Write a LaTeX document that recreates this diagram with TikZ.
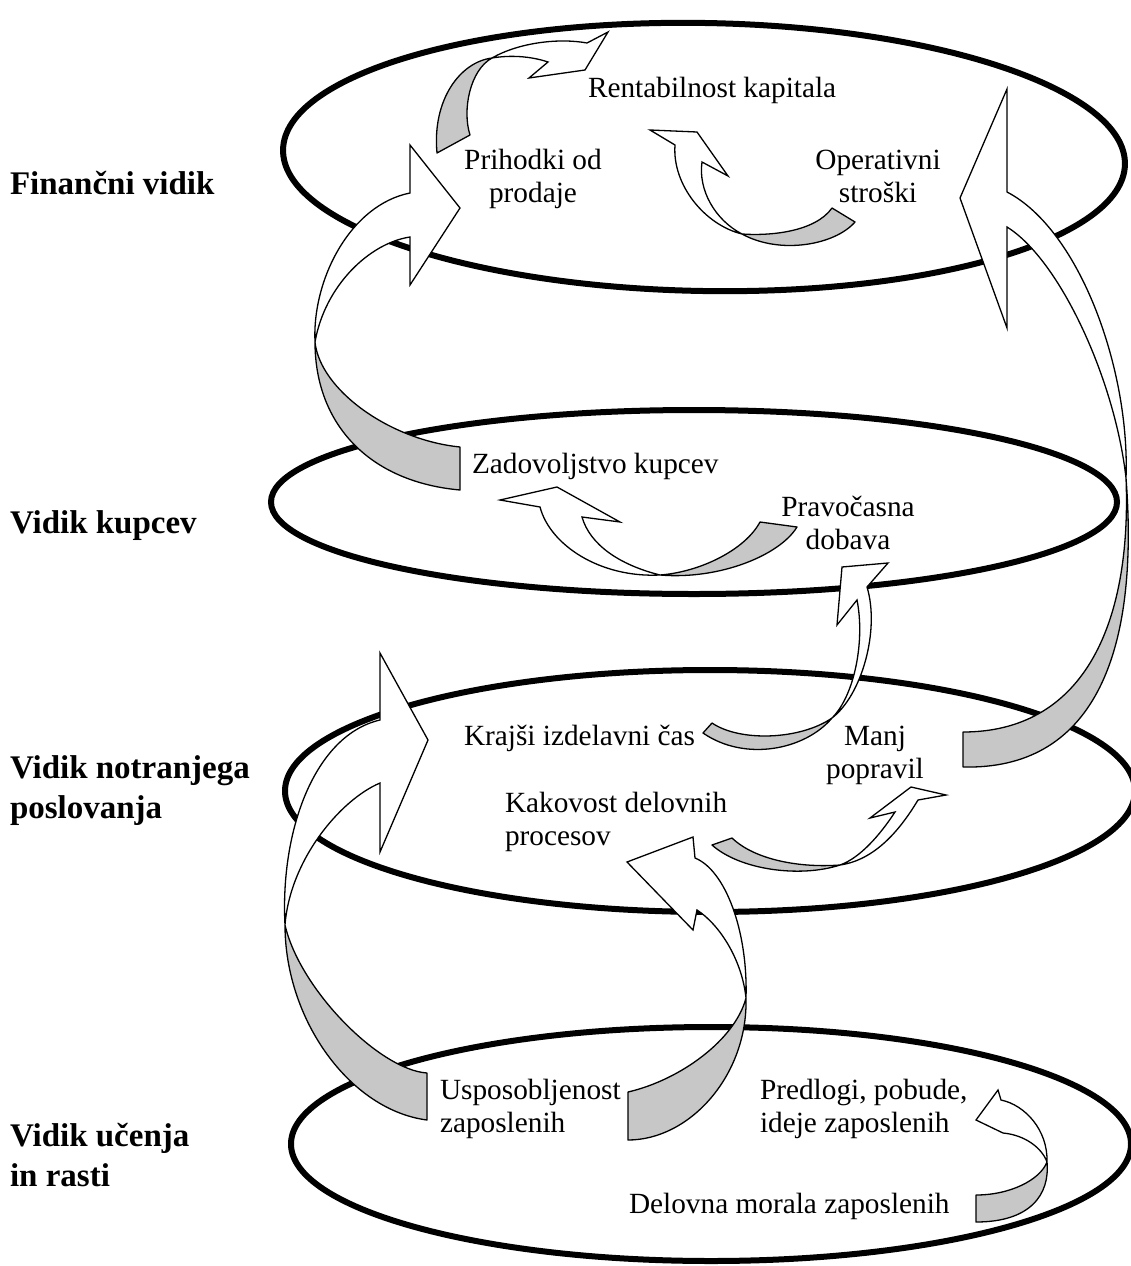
\documentclass[tikz,border=0pt]{standalone}
\usepackage{fontspec}
\setmainfont{Liberation Serif}

\begin{document}
\begin{tikzpicture}[x=1pt, y=-1pt]
\tikzstyle{every node}=[inner sep=0pt, outer sep=0pt]
\tikzstyle{sidelabel}=[font=\fontsize{33}{40}\selectfont\bfseries, anchor=base west, align=left]
\tikzstyle{aimlabel}=[font=\fontsize{29.3}{33}\selectfont, anchor=base, align=center]
\tikzstyle{plate}=[line width=6pt]
\tikzstyle{tailpart}=[draw, line width=1.3pt, fill=black!22, line join=round]
\tikzstyle{headpart}=[draw, line width=1.3pt, fill=white, line join=miter]

\useasboundingbox (0,0) rectangle (1130,1266);

\draw[plate, rotate around={-1:(704,157)}] (704,157) ellipse [x radius=421pt, y radius=134pt];
\draw[plate] (694,502) ellipse [x radius=423pt, y radius=92pt];
\draw[plate] (710,791) ellipse [x radius=425pt, y radius=121pt];
\draw[plate] (711,1144) ellipse [x radius=420pt, y radius=117pt];

\coordinate (t1) at (492,58);
\coordinate (t2) at (315,342);
\coordinate (t3) at (1126,478);
\coordinate (t4) at (285,925);
\coordinate (t5) at (746,998);
\coordinate (t6) at (742,234);
\coordinate (t7) at (660,575);
\coordinate (t8) at (832,718);
\coordinate (t9) at (840,865);
\coordinate (t10) at (1047,1162);

\draw[tailpart] (t1) .. controls (460,62) and (432,100) .. (437,153) -- (470,135) .. controls (462,110) and (470,70) .. (t1);
\draw[headpart] (t1) .. controls (520,42) and (560,38) .. (587,43) -- (608,32) -- (585,70) -- (529,78) -- (548,62) .. controls (530,56) and (510,55) .. (t1);

\draw[tailpart] (t2) .. controls (315,425) and (370,482) .. (460,490) -- (460,447) .. controls (390,440) and (320,390) .. (t2);
\draw[headpart] (t2) .. controls (312,280) and (350,205) .. (410,193) -- (410,145) -- (460,208) -- (410,285) -- (410,237) .. controls (370,243) and (325,285) .. (t2);

\draw[tailpart] (t3) .. controls (1140,660) and (1090,770) .. (963,767) -- (963,732) .. controls (1080,732) and (1132,630) .. (t3);
\draw[headpart] (t3) .. controls (1130,370) and (1080,230) .. (1007,192) -- (1007,89) -- (960,198) -- (1007,328) -- (1007,227) .. controls (1060,260) and (1115,380) .. (t3);

\draw[tailpart] (t4) .. controls (285,1020) and (350,1110) .. (427,1120) -- (427,1073) .. controls (380,1070) and (300,990) .. (t4);
\draw[headpart] (t4) .. controls (280,830) and (315,735) .. (380,720) -- (380,653) -- (428,740) -- (380,852) -- (380,783) .. controls (340,800) and (290,860) .. (t4);

\draw[tailpart] (t5) .. controls (735,1040) and (680,1080) .. (628,1092) -- (628,1140) .. controls (690,1140) and (748,1075) .. (t5);
\draw[headpart] (t5) .. controls (748,930) and (725,870) .. (695,858) -- (693,837) -- (627,862) -- (693,930) -- (697,910) .. controls (720,925) and (742,960) .. (t5);

\draw[tailpart] (t6) .. controls (780,255) and (835,245) .. (855,222) -- (832,208) .. controls (815,232) and (770,236) .. (t6);
\draw[headpart] (t6) .. controls (705,225) and (672,185) .. (675,145) -- (650,130) -- (697,132) -- (728,176) -- (702,162) .. controls (698,190) and (715,220) .. (t6);

\draw[tailpart] (t7) .. controls (720,580) and (780,555) .. (797,527) -- (760,522) .. controls (745,550) and (700,572) .. (t7);
\draw[headpart] (t7) .. controls (600,578) and (550,545) .. (540,507) -- (500,500) -- (557,487) -- (620,522) -- (582,517) .. controls (590,545) and (620,565) .. (t7);

\draw[tailpart] (t8) .. controls (805,750) and (745,762) .. (703,733) -- (712,723) .. controls (740,742) and (800,740) .. (t8);
\draw[headpart] (t8) .. controls (862,695) and (880,630) .. (867,587) -- (888,563) -- (842,567) -- (837,625) -- (857,600) .. controls (865,640) and (855,695) .. (t8);

\draw[tailpart] (t9) .. controls (800,878) and (740,870) .. (712,845) -- (732,838) .. controls (755,860) and (800,868) .. (t9);
\draw[headpart] (t9) .. controls (875,860) and (900,830) .. (918,800) -- (946,795) -- (911,787) -- (870,818) -- (895,812) .. controls (880,835) and (860,858) .. (t9);

\draw[tailpart] (t10) .. controls (1050,1195) and (1030,1222) .. (976,1222) -- (976,1195) .. controls (1010,1195) and (1040,1180) .. (t10);
\draw[headpart] (t10) .. controls (1048,1130) and (1025,1105) .. (1001,1100) -- (998,1090) -- (976,1120) -- (1003,1133) .. controls (1025,1135) and (1042,1148) .. (t10);

\node[sidelabel] at (10,194) (fin) {Finančni vidik};
\node[sidelabel] at (10,533) (kup) {Vidik kupcev};
\node[sidelabel] at (10,818) (notr) {Vidik notranjega\\poslovanja};
\node[sidelabel] at (10,1186) (ucen) {Vidik učenja\\in rasti};

\node[aimlabel, anchor=base west] at (588,97) (rent) {Rentabilnost kapitala};
\node[aimlabel] at (533,202) (prih) {Prihodki od\\prodaje};
\node[aimlabel] at (878,202) (oper) {Operativni\\stroški};
\node[aimlabel, anchor=base west] at (472,473) (zad) {Zadovoljstvo kupcev};
\node[aimlabel] at (848,549) (prav) {Pravočasna\\dobava};
\node[aimlabel, anchor=base west] at (464,745) (kraj) {Krajši izdelavni čas};
\node[aimlabel] at (875,778) (manj) {Manj\\popravil};
\node[aimlabel, anchor=base west, align=left] at (505,845) (kak) {Kakovost delovnih\\procesov};
\node[aimlabel, anchor=base west, align=left] at (440,1132) (usp) {Usposobljenost\\zaposlenih};
\node[aimlabel, anchor=base west, align=left] at (760,1132) (pred) {Predlogi, pobude,\\ideje zaposlenih};
\node[aimlabel, anchor=base west] at (629,1213) (del) {Delovna morala zaposlenih};
\end{tikzpicture}
\end{document}
